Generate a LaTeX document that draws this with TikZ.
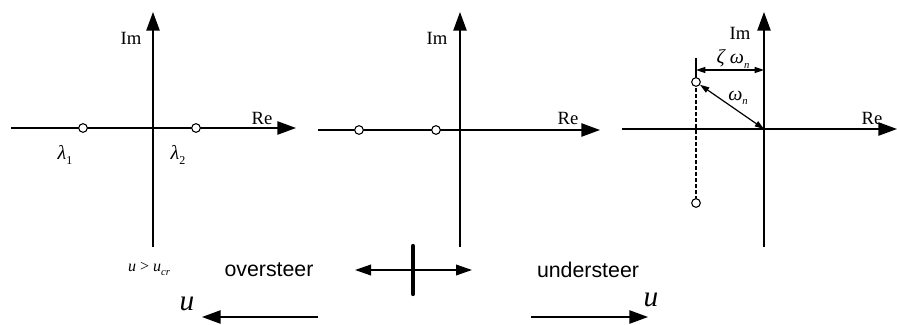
\documentclass[tikz,border=0pt]{standalone}
\usepackage{fontspec}
\setmainfont{Liberation Serif}
\setsansfont{Liberation Sans}
\usetikzlibrary{arrows.meta}
\newcommand{\mysub}[2]{\raisebox{-0.45ex}{\fontsize{#1}{#1}\selectfont\itshape #2}}
\newcommand{\mysubup}[2]{\raisebox{-0.45ex}{\fontsize{#1}{#1}\selectfont\upshape #2}}
\begin{document}
\begin{tikzpicture}[x=0.75pt,y=-0.75pt,
  axis/.style={line width=1.1pt,-{Triangle[length=14pt,width=10pt]}},
  pole/.style={circle,draw,fill=white,line width=0.8pt,inner sep=0pt,minimum size=6.5pt},
  lbl/.style={font=\fontsize{14}{14}\selectfont,inner sep=0pt},
  gk/.style={font=\fontsize{15}{15}\selectfont\itshape,inner sep=0pt},
  word/.style={font=\sffamily\fontsize{16}{16}\selectfont,inner sep=0pt},
  dim/.style={line width=0.9pt,{Triangle[length=7pt,width=4.5pt]}-{Triangle[length=7pt,width=4.5pt]}},
  bigu/.style={font=\fontsize{22}{22}\selectfont\itshape,inner sep=0pt}]
\useasboundingbox (0,0) rectangle (897,325);
% Panel 1
\coordinate (v1b) at (153,247); \coordinate (v1t) at (153,12);
\coordinate (h1l) at (11,128);  \coordinate (h1r) at (296,128);
\draw[axis] (v1b) -- (v1t);
\draw[axis] (h1l) -- (h1r);
\node[pole] (p11) at (83,128) {};
\node[pole] (p12) at (196,128) {};
\node[lbl] (im1) at (131,38) {Im};
\node[lbl] (re1) at (262,118) {Re};
\node[gk] (l1) at (65,155) {λ\mysubup{9}{1}};
\node[gk] (l2) at (178,155) {λ\mysubup{9}{2}};
\node[inner sep=0pt,font=\fontsize{12}{12}\selectfont] (ucr) at (149,269) {\textit{u} > \textit{u}\mysub{8}{cr}};
% Panel 2
\coordinate (v2b) at (460,247); \coordinate (v2t) at (460,12);
\coordinate (h2l) at (318,130); \coordinate (h2r) at (600,130);
\draw[axis] (v2b) -- (v2t);
\draw[axis] (h2l) -- (h2r);
\node[pole] (p21) at (359,130) {};
\node[pole] (p22) at (436,130) {};
\node[lbl] (im2) at (437,38) {Im};
\node[lbl] (re2) at (568,118) {Re};
% Panel 3
\coordinate (v3b) at (764,247); \coordinate (v3t) at (764,12);
\coordinate (h3l) at (622,129); \coordinate (h3r) at (897,129);
\coordinate (o3) at (764,129);
\draw[axis] (v3b) -- (v3t);
\draw[axis] (h3l) -- (h3r);
\coordinate (tk) at (696,58);
\coordinate (d1) at (696,70); \coordinate (d2) at (764,70);
\draw[line width=0.9pt] (tk) -- (696,78);
\draw[dim] (d1) -- (d2);
\draw[line width=0.9pt,dashed,dash pattern=on 3pt off 1.5pt] (696,82) -- (696,203);
\node[pole] (p31) at (696,82) {};
\node[pole] (p32) at (696,203) {};
\draw[dim] (p31) -- (o3);
\node[lbl] (im3) at (740,33) {Im};
\node[lbl] (re3) at (872,118) {Re};
\node[gk] (zw) at (733,59) {ζ\hspace{4pt}ω\mysub{8}{n}};
\node[gk] (wn) at (738,98) {ω\mysub{8}{n}};
% bottom
\node[word] (ov) at (269,270) {oversteer};
\node[word] (un) at (588,270) {understeer};
\coordinate (da) at (355,270); \coordinate (db) at (472,270);
\draw[line width=1.1pt,{Triangle[length=12pt,width=8pt]}-{Triangle[length=12pt,width=8pt]}] (da) -- (db);
\coordinate (bt) at (413,246); \coordinate (bb) at (413,294);
\draw[line width=3.2pt,line cap=round] (bt) -- (bb);
\coordinate (la) at (318,317); \coordinate (lb) at (202,317);
\draw[line width=1.1pt,-{Triangle[length=14pt,width=10pt]}] (la) -- (lb);
\coordinate (ra) at (531,317); \coordinate (rb) at (648,317);
\draw[line width=1.1pt,-{Triangle[length=14pt,width=10pt]}] (ra) -- (rb);
\node[bigu] (u1) at (187,304) {u};
\node[bigu] (u2) at (651,300) {u};
\end{tikzpicture}
\end{document}
